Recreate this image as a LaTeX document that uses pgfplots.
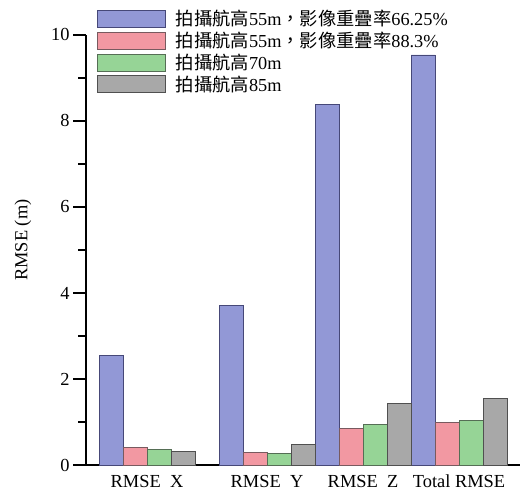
\documentclass[border=0pt]{standalone}
\usepackage{pgfplots}
\pgfplotsset{compat=1.18}
\usepackage{fontspec}
\setmainfont{Liberation Serif}
\newfontfamily\cjk{Noto Sans CJK TC}
\definecolor{cblue}{RGB}{146,152,214}
\definecolor{cbluel}{RGB}{70,72,120}
\definecolor{cred}{RGB}{242,152,162}
\definecolor{credl}{RGB}{120,90,95}
\definecolor{cgreen}{RGB}{150,212,150}
\definecolor{cgreenl}{RGB}{85,110,85}
\definecolor{cgray}{RGB}{168,168,168}
\definecolor{cgrayl}{RGB}{80,80,80}
\begin{document}
\begin{tikzpicture}[x=1pt,y=1pt]
\useasboundingbox (0,0) rectangle (524,492);
\begin{axis}[
  at={(86pt,26.7pt)}, anchor=south west,
  scale only axis, width=434pt, height=430.6pt,
  xmin=86, xmax=520, ymin=0, ymax=10,
  axis x line=bottom, axis y line=left,
  axis line style={line width=2.2pt,-},
  ytick={0,2,4,6,8,10}, minor ytick={1,3,5,7,9},
  tick align=outside,
  major tick length=13pt, minor tick length=8pt,
  ytick style={line width=2.2pt,black},
  minor tick style={line width=2.2pt,black},
  xtick={147,267,363,459},
  xticklabels={RMSE\ \ X, RMSE\ \ Y, RMSE\ \ Z, Total RMSE},
  xtick style={draw=none},
  xticklabel style={yshift=7pt},
  /pgf/number format/assume math mode=true,
  tick label style={font=\fontsize{18.4}{20}\selectfont},
  every axis y label/.style={at={(axis description cs:-0.145,0.523)},rotate=90,anchor=center,font=\fontsize{18.4}{20}\selectfont},
  ylabel={RMSE (m)},
  ybar, bar width=24,
  legend cell align=left,
  legend style={at={(axis description cs:0.018,1.066)}, anchor=north west, draw=none, fill=none,
    font=\fontsize{18.3}{20}\selectfont, row sep=0.8pt, column sep=8pt,
    nodes={inner sep=2pt}},
  legend image code/.code={\draw[#1,line width=0.8pt] (0pt,-8.5pt) rectangle (68pt,8.5pt);},
]
\addplot[fill=cblue, draw=cbluel, line width=0.8pt, bar shift=-36] coordinates {(147,2.56) (267,3.72) (363,8.37) (459,9.53)};
\addplot[fill=cred, draw=credl, line width=0.8pt, bar shift=-12] coordinates {(147,0.41) (267,0.30) (363,0.86) (459,1.00)};
\addplot[fill=cgreen, draw=cgreenl, line width=0.8pt, bar shift=12] coordinates {(147,0.37) (267,0.28) (363,0.95) (459,1.05)};
\addplot[fill=cgray, draw=cgrayl, line width=0.8pt, bar shift=36] coordinates {(147,0.33) (267,0.49) (363,1.44) (459,1.56)};
\legend{{\cjk 拍攝航高}55m{\cjk ，影像重疊率}66.25\%, {\cjk 拍攝航高}55m{\cjk ，影像重疊率}88.3\%, {\cjk 拍攝航高}70m, {\cjk 拍攝航高}85m}
\end{axis}
\end{tikzpicture}
\end{document}
